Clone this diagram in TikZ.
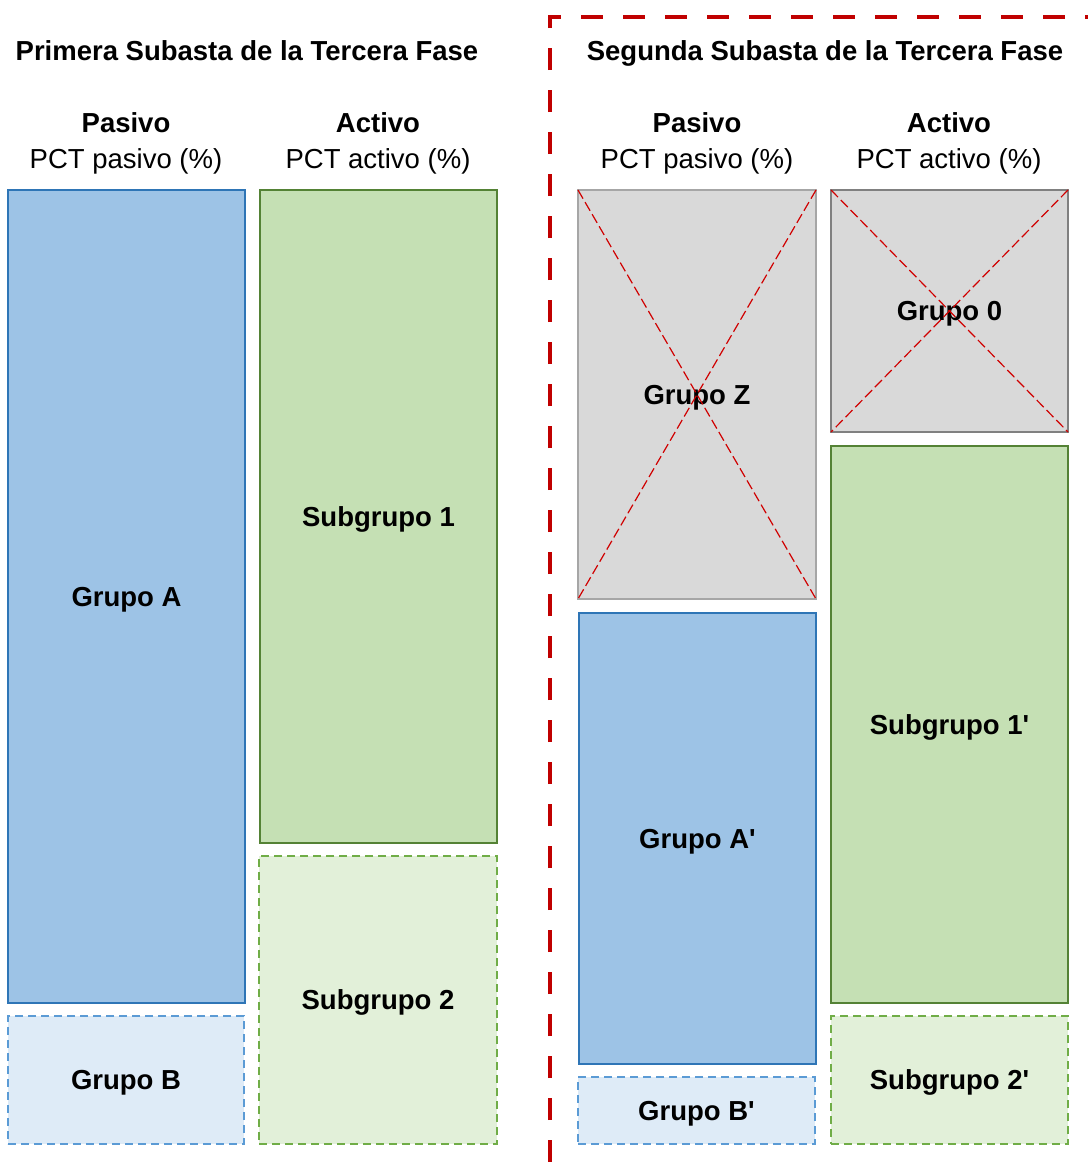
\documentclass[tikz,border=0pt]{standalone}
\usepackage{fontspec}
\setmainfont{Liberation Sans}
\definecolor{azulfuerte}{HTML}{9DC3E6}
\definecolor{azulborde}{HTML}{2E75B6}
\definecolor{azulclaro}{HTML}{DEEBF7}
\definecolor{azulguion}{HTML}{5B9BD5}
\definecolor{verdefuerte}{HTML}{C5E0B4}
\definecolor{verdeborde}{HTML}{548235}
\definecolor{verdeclaro}{HTML}{E2F0D9}
\definecolor{verdeguion}{HTML}{70AD47}
\definecolor{grisfondo}{HTML}{D9D9D9}
\definecolor{rojomarco}{HTML}{C00000}
\definecolor{rojocruz}{HTML}{D00000}
\begin{document}
\begin{tikzpicture}[x=1pt, y=-1pt,
  caja/.style={rectangle, outer sep=0pt, inner sep=0pt, line width=2pt, text depth=0pt, font=\fontsize{27.5}{36}\selectfont\bfseries},
  cajafuerte/.style={caja, fill=azulfuerte, draw=azulborde},
  cajaclara/.style={caja, fill=azulclaro, draw=azulguion, dash pattern=on 8pt off 5pt, line width=2.8pt},
  verdefuerte/.style={caja, fill=verdefuerte, draw=verdeborde},
  verdeclara/.style={caja, fill=verdeclaro, draw=verdeguion, dash pattern=on 8pt off 5pt, line width=2.8pt},
  cajagris/.style={caja, fill=grisfondo},
  cruz/.style={rojocruz, line width=1.2pt, dash pattern=on 10pt off 4pt},
  titulo/.style={text depth=0pt, font=\fontsize{27.5}{36}\selectfont\bfseries},
  cabecera/.style={align=center, font=\fontsize{27.5}{36}\selectfont}]
\useasboundingbox (0,0) rectangle (1088,1162);

\node[titulo] (tit1) at (247,51) {Primera Subasta de la Tercera Fase};
\node[titulo] (tit2) at (825,51) {Segunda Subasta de la Tercera Fase};

\node[cabecera] (pas1) at (126,143) {\textbf{Pasivo}\\PCT pasivo (\%)};
\node[cabecera] (act1) at (378,143) {\textbf{Activo}\\PCT activo (\%)};
\node[cabecera] (pas2) at (697,143) {\textbf{Pasivo}\\PCT pasivo (\%)};
\node[cabecera] (act2) at (949,143) {\textbf{Activo}\\PCT activo (\%)};

\node[cajafuerte, minimum width=237, minimum height=813] (grA) at (126.5,596.5) {Grupo A};
\node[cajaclara, minimum width=236, minimum height=128] (grB) at (126,1080) {Grupo B};
\node[verdefuerte, minimum width=237, minimum height=653] (sub1) at (378.5,516.5) {Subgrupo 1};
\node[verdeclara, minimum width=238, minimum height=288] (sub2) at (378,1000) {Subgrupo 2};

\node[cajagris, draw=black!35, minimum width=238, minimum height=409] (grZ) at (697,394.5) {Grupo Z};
\draw[cruz] (grZ.north west) -- (grZ.south east);
\draw[cruz] (grZ.north east) -- (grZ.south west);
\node[cajagris, draw=black!50, minimum width=237, minimum height=242] (gr0) at (949.5,311) {Grupo 0};
\draw[cruz] (gr0.north west) -- (gr0.south east);
\draw[cruz] (gr0.north east) -- (gr0.south west);

\node[cajafuerte, minimum width=237, minimum height=451] (grA2) at (697.5,838.5) {Grupo A\textquotesingle};
\node[cajaclara, minimum width=237, minimum height=67] (grB2) at (696.5,1110.5) {Grupo B\textquotesingle};
\node[verdefuerte, minimum width=237, minimum height=557] (sub12) at (949.5,724.5) {Subgrupo 1\textquotesingle};
\node[verdeclara, minimum width=237, minimum height=128] (sub22) at (949.5,1080) {Subgrupo 2\textquotesingle};

\coordinate (marcoab) at (550,1162);
\coordinate (marcoesq) at (550,17);
\coordinate (marcoder) at (1088,17);
\draw[rojomarco, line width=4pt, dash pattern=on 22pt off 20pt] (marcoab) -- (marcoesq) -- (marcoder);

\end{tikzpicture}
\end{document}
